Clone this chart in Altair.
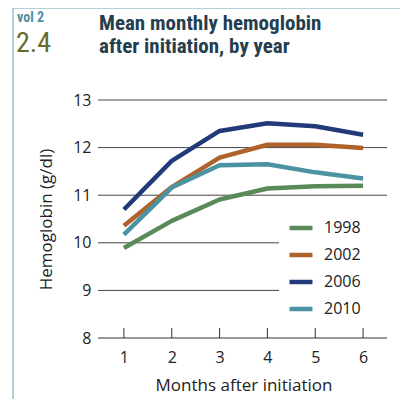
import altair as alt
import pandas as pd

months = [1, 2, 3, 4, 5, 6]
years = ["1998", "2002", "2006", "2010"]
hb_1998 = [9.89, 10.46, 10.91, 11.14, 11.19, 11.20]
hb_2002 = [10.36, 11.17, 11.79, 12.06, 12.06, 11.99]
hb_2006 = [10.70, 11.72, 12.35, 12.51, 12.45, 12.27]
hb_2010 = [10.17, 11.16, 11.63, 11.65, 11.48, 11.35]
colors = ["#5B8A5A", "#B0622B", "#233A7A", "#4B93A3"]
y_ticks = [8, 9, 10, 11, 12, 13]
grid_full = [11, 12, 13]
grid_short = [9, 10]

series = {"1998": hb_1998, "2002": hb_2002, "2006": hb_2006, "2010": hb_2010}
rows = []
for yr in years:
    for m, v in zip(months, series[yr]):
        rows.append({"month": m, "hb": v, "year": yr})
df = pd.DataFrame(rows)

W, H = 287, 238
FONT = "Open Sans"
HFONT = "Roboto Condensed"

xs = alt.Scale(domain=[0.5, 6.5], nice=False)
ys = alt.Scale(domain=[8, 13], nice=False, zero=False)

grid_full_df = pd.DataFrame({"v": grid_full})
grid_short_df = pd.DataFrame({"v": grid_short})
ticks_df = pd.DataFrame({"m": months})
base_df = pd.DataFrame({"v": [8]})

gf = alt.Chart(grid_full_df).mark_rule(color="#444444", strokeWidth=1).encode(
    y=alt.Y("v:Q", scale=ys), x=alt.value(-2), x2=alt.value(W)
)
gs = alt.Chart(grid_short_df).mark_rule(color="#444444", strokeWidth=1).encode(
    y=alt.Y("v:Q", scale=ys), x=alt.value(-2), x2=alt.value(179)
)
baseline = alt.Chart(base_df).mark_rule(color="#333333", strokeWidth=1.2).encode(
    y=alt.Y("v:Q", scale=ys), x=alt.value(-2), x2=alt.value(W)
)
xticks = alt.Chart(ticks_df).mark_rule(color="#333333", strokeWidth=1).encode(
    x=alt.X("m:Q", scale=xs), y=alt.value(H - 10), y2=alt.value(H)
)

lines = alt.Chart(df).mark_line(strokeWidth=4.5, strokeCap="butt", strokeJoin="round").encode(
    x=alt.X(
        "month:Q", scale=xs,
        axis=alt.Axis(values=months, title="Months after initiation", domain=False, ticks=False,
                      grid=False, labelPadding=11, titlePadding=12, format="d"),
    ),
    y=alt.Y(
        "hb:Q", scale=ys,
        axis=alt.Axis(values=y_ticks, title="Hemoglobin (g/dl)", domain=False, ticks=False,
                      grid=False, labelPadding=9, titlePadding=17, format="d"),
    ),
    color=alt.Color(
        "year:N", scale=alt.Scale(domain=years, range=colors),
        legend=alt.Legend(
            title=None, orient="none", legendX=187, legendY=114, symbolType="stroke",
            symbolStrokeWidth=4.5, symbolSize=529, labelFontSize=16, labelFont=FONT,
            labelColor="#222222", rowPadding=4, labelOffset=9, padding=0,
        ),
    ),
    detail="year:N",
)

# frame
frame_left = alt.Chart(base_df).mark_rule(color="#9DC1CD", strokeWidth=1.5).encode(
    x=alt.value(-87), y=alt.value(-92), y2=alt.value(H + 61)
)
frame_top = alt.Chart(base_df).mark_rule(color="#9DC1CD", strokeWidth=1.5).encode(
    x=alt.value(-87), x2=alt.value(W + 13), y=alt.value(-92)
)

vol = alt.Chart(base_df).mark_text(
    text="vol 2", font=HFONT, fontSize=14, fontWeight="bold",
    color="#4F8FA3", align="left", baseline="alphabetic"
).encode(x=alt.value(-83), y=alt.value(-78))
num = alt.Chart(base_df).mark_text(
    text="2.4", font=HFONT, fontSize=28, fontWeight="normal", color="#6B6A2C",
    align="left", baseline="alphabetic"
).encode(x=alt.value(-84), y=alt.value(-48))
title = alt.Chart(base_df).mark_text(
    text=["Mean monthly hemoglobin", "after initiation, by year"],
    font=HFONT, fontSize=21, fontWeight="bold", color="#243E4E",
    align="left", baseline="alphabetic", lineHeight=23
).encode(x=alt.value(-1), y=alt.value(-70))

chart = alt.layer(gf, gs, baseline, xticks, lines, frame_left, frame_top, vol, num, title).properties(
    width=W, height=H,
    autosize=alt.AutoSizeParams(type="none"),
    padding={"left": 92, "top": 92, "right": 13, "bottom": 61},
).configure_view(stroke=None).configure_axis(
    labelFont=FONT, labelFontSize=16, labelColor="#222222",
    titleFont=FONT, titleFontSize=17, titleColor="#222222", titleFontWeight="normal",
)

chart.save("out.html", embed_options={"renderer": "svg", "actions": False})
